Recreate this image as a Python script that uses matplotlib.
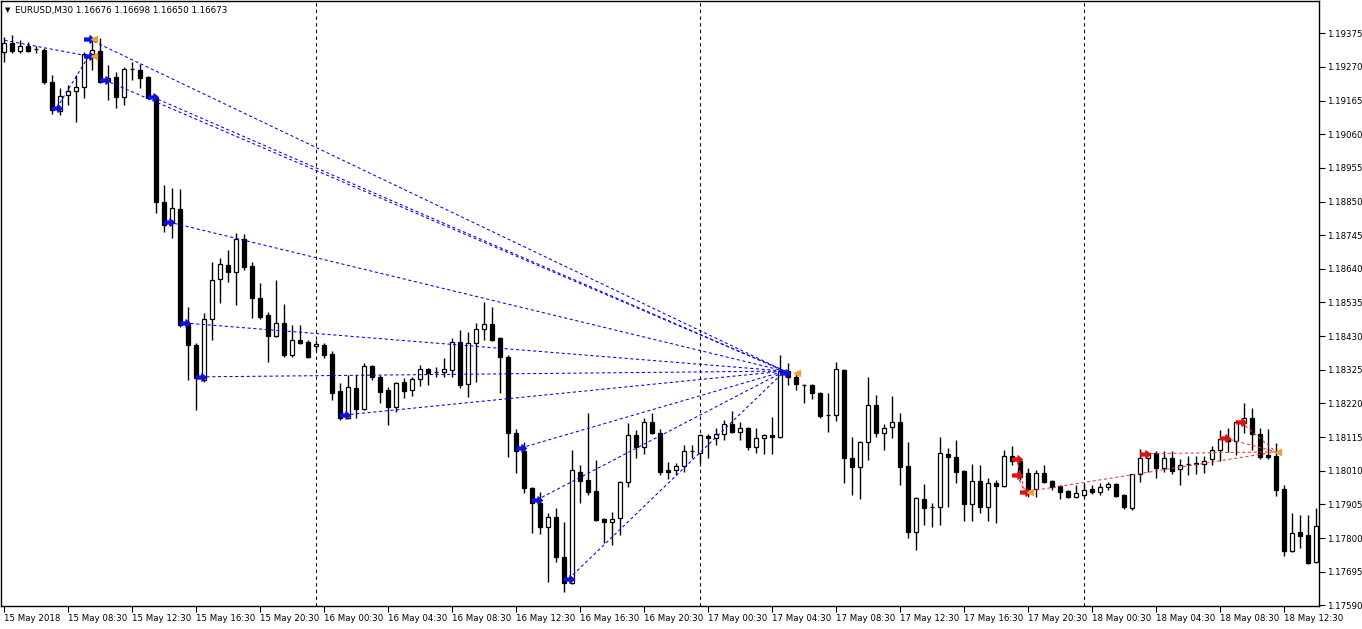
import matplotlib
matplotlib.use("Agg")
import matplotlib.pyplot as plt
from matplotlib.path import Path
import numpy as np

# ---------------- data (EURUSD M30, bar 0 = 15 May 04:30) ----------------
opens = [1.19317,1.19345,1.19320,1.19335,1.19326,1.19323,1.19223,1.19133,1.19183,1.19195,
         1.19208,1.19311,1.19320,1.19226,1.19239,1.19176,1.19264,1.19261,1.19239,1.19173,
         1.18849,1.18783,1.18827,1.18468,1.18403,1.18293,1.18484,1.18609,1.18652,1.18630,
         1.18733,1.18649,1.18549,1.18496,1.18431,1.18471,1.18371,1.18418,1.18412,1.18399,
         1.18403,1.18375,1.18259,1.18175,1.18268,1.18203,1.18337,1.18303,1.18262,1.18209,
         1.18287,1.18262,1.18297,1.18328,1.18318,1.18318,1.18325,1.18412,1.18281,1.18409,
         1.18453,1.18468,1.18424,1.18365,1.18128,1.18072,1.17956,1.17910,1.17835,1.17866,
         1.17741,1.17660,1.18006,1.17981,1.17947,1.17860,1.17850,1.17863,1.17975,1.18122,
         1.18084,1.18162,1.18128,1.18013,1.18013,1.18025,1.18072,1.18066,1.18119,1.18112,
         1.18125,1.18156,1.18131,1.18144,1.18084,1.18112,1.18122,1.18116,1.18321,1.18303,
         1.18278,1.18278,1.18253,1.18184,1.18184,1.18325,1.18050,1.18022,1.18100,1.18215,
         1.18128,1.18147,1.18162,1.18025,1.17819,1.17922,1.17897,1.17897,1.18063,1.18053,
         1.18009,1.17907,1.17978,1.17897,1.17972,1.17963,1.18056,1.18041,1.18003,1.17953,
         1.18003,1.17978,1.17963,1.17947,1.17928,1.17935,1.17953,1.17944,1.17960,1.17969,
         1.17935,1.17894,1.18000,1.18050,1.18066,1.18019,1.18050,1.18016,1.18031,1.18031,
         1.18031,1.18047,1.18075,1.18109,1.18103,1.18159,1.18175,1.18125,1.18059,1.18056,
         1.17953,1.17760,1.17819,1.17810,1.17726]
highs = [1.19364,1.19370,1.19354,1.19348,1.19335,1.19329,1.19245,1.19204,1.19214,1.19245,
         1.19317,1.19360,1.19360,1.19276,1.19254,1.19270,1.19286,1.19279,1.19242,1.19183,
         1.18902,1.18892,1.18889,1.18521,1.18409,1.18502,1.18662,1.18674,1.18699,1.18752,
         1.18749,1.18662,1.18596,1.18506,1.18605,1.18531,1.18465,1.18465,1.18418,1.18418,
         1.18409,1.18384,1.18284,1.18309,1.18309,1.18346,1.18340,1.18309,1.18272,1.18287,
         1.18300,1.18303,1.18340,1.18331,1.18334,1.18362,1.18424,1.18449,1.18443,1.18471,
         1.18537,1.18521,1.18428,1.18371,1.18141,1.18100,1.17960,1.17944,1.17878,1.17894,
         1.17850,1.18075,1.18028,1.18190,1.18044,1.17863,1.17882,1.17978,1.18159,1.18137,
         1.18175,1.18190,1.18141,1.18038,1.18034,1.18091,1.18091,1.18125,1.18125,1.18144,
         1.18169,1.18197,1.18162,1.18147,1.18144,1.18125,1.18178,1.18371,1.18346,1.18318,
         1.18281,1.18281,1.18256,1.18253,1.18350,1.18328,1.18116,1.18103,1.18303,1.18247,
         1.18156,1.18243,1.18190,1.18100,1.17928,1.17969,1.17910,1.18116,1.18081,1.18106,
         1.18013,1.18031,1.18028,1.17988,1.17981,1.18075,1.18087,1.18050,1.18019,1.18012,
         1.18028,1.17981,1.17966,1.17950,1.17966,1.17972,1.17966,1.17972,1.17975,1.17972,
         1.17938,1.18000,1.18078,1.18069,1.18072,1.18072,1.18072,1.18047,1.18056,1.18056,
         1.18056,1.18087,1.18137,1.18144,1.18169,1.18222,1.18206,1.18144,1.18141,1.18097,
         1.17966,1.17878,1.17872,1.17872,1.17894]
lows = [1.19286,1.19314,1.19314,1.19317,1.19314,1.19217,1.19123,1.19120,1.19151,1.19098,
        1.19173,1.19261,1.19220,1.19167,1.19142,1.19151,1.19229,1.19204,1.19170,1.18814,
        1.18755,1.18736,1.18459,1.18293,1.18200,1.18287,1.18418,1.18534,1.18599,1.18527,
        1.18637,1.18487,1.18484,1.18350,1.18428,1.18365,1.18365,1.18406,1.18362,1.18387,
        1.18362,1.18231,1.18169,1.18172,1.18175,1.18200,1.18293,1.18222,1.18153,1.18194,
        1.18237,1.18243,1.18275,1.18278,1.18303,1.18303,1.18303,1.18268,1.18240,1.18287,
        1.18418,1.18415,1.18253,1.18053,1.18003,1.17941,1.17816,1.17813,1.17663,1.17726,
        1.17632,1.17657,1.17910,1.17935,1.17853,1.17785,1.17779,1.17810,1.17960,1.18050,
        1.18063,1.18125,1.17997,1.17985,1.17997,1.18006,1.18050,1.18034,1.18050,1.18091,
        1.18106,1.18128,1.18106,1.18075,1.18066,1.18063,1.18063,1.18112,1.18278,1.18262,
        1.18222,1.18234,1.18175,1.18131,1.18165,1.17972,1.17935,1.17922,1.18043,1.18116,
        1.18075,1.18112,1.17966,1.17800,1.17763,1.17841,1.17835,1.17841,1.17897,1.17972,
        1.17853,1.17853,1.17878,1.17853,1.17847,1.17960,1.18028,1.17981,1.17928,1.17928,
        1.17972,1.17950,1.17922,1.17925,1.17925,1.17928,1.17938,1.17935,1.17950,1.17928,
        1.17891,1.17888,1.17975,1.18006,1.17988,1.18006,1.18000,1.17966,1.17997,1.18000,
        1.18003,1.18028,1.18041,1.18069,1.18059,1.18128,1.18075,1.18047,1.18047,1.17931,
        1.17744,1.17757,1.17769,1.17719,1.17722]
closes = [1.19345,1.19320,1.19335,1.19320,1.19326,1.19223,1.19136,1.19179,1.19195,1.19208,
          1.19311,1.19323,1.19223,1.19236,1.19176,1.19264,1.19264,1.19236,1.19173,1.18849,
          1.18777,1.18830,1.18465,1.18403,1.18300,1.18484,1.18605,1.18655,1.18630,1.18733,
          1.18646,1.18549,1.18490,1.18431,1.18471,1.18371,1.18418,1.18409,1.18365,1.18406,
          1.18371,1.18253,1.18175,1.18272,1.18203,1.18337,1.18303,1.18256,1.18209,1.18284,
          1.18259,1.18297,1.18328,1.18315,1.18318,1.18328,1.18412,1.18278,1.18409,1.18453,
          1.18468,1.18418,1.18365,1.18128,1.18072,1.17956,1.17910,1.17835,1.17866,1.17741,
          1.17660,1.18013,1.17978,1.17944,1.17857,1.17850,1.17860,1.17975,1.18122,1.18084,
          1.18162,1.18128,1.18006,1.18006,1.18025,1.18072,1.18072,1.18122,1.18112,1.18125,
          1.18156,1.18131,1.18144,1.18084,1.18112,1.18122,1.18116,1.18321,1.18303,1.18281,
          1.18278,1.18253,1.18181,1.18184,1.18328,1.18050,1.18022,1.18100,1.18215,1.18128,
          1.18144,1.18162,1.18022,1.17819,1.17925,1.17894,1.17897,1.18066,1.18053,1.18006,
          1.17907,1.17978,1.17897,1.17972,1.17963,1.18056,1.18041,1.17991,1.17953,1.18003,
          1.17975,1.17960,1.17944,1.17928,1.17941,1.17950,1.17944,1.17960,1.17969,1.17931,
          1.17897,1.18000,1.18050,1.18066,1.18019,1.18050,1.18009,1.18028,1.18031,1.18034,
          1.18041,1.18075,1.18109,1.18103,1.18162,1.18175,1.18125,1.18053,1.18053,1.17950,
          1.17760,1.17816,1.17807,1.17722,1.17838]

xtick_bars = [0, 8, 16, 24, 32, 40, 48, 56, 64, 72, 80, 88, 96, 104, 112, 120, 128, 136, 144, 152, 160]
xtick_labels = ["15 May 2018", "15 May 08:30", "15 May 12:30", "15 May 16:30", "15 May 20:30",
                "16 May 00:30", "16 May 04:30", "16 May 08:30", "16 May 12:30", "16 May 16:30",
                "16 May 20:30", "17 May 00:30", "17 May 04:30", "17 May 08:30", "17 May 12:30",
                "17 May 16:30", "17 May 20:30", "18 May 00:30", "18 May 04:30", "18 May 08:30",
                "18 May 12:30"]
day_separator_bars = [39, 87, 135]
ytick_values = [1.17590, 1.17695, 1.17800, 1.17905, 1.18010, 1.18115, 1.18220, 1.18325,
                1.18430, 1.18535, 1.18640, 1.18745, 1.18850, 1.18955, 1.19060, 1.19165,
                1.19270, 1.19375]
title_text = "EURUSD,M30 1.16676 1.16698 1.16650 1.16673"

# blue signals: bar index, price ; all converge to one target
blue_sig_bars = [11, 13, 19, 21, 23, 25, 43, 65, 67, 71]
blue_sig_prices = [1.19357, 1.19229, 1.19176, 1.18786, 1.18471, 1.18303, 1.18184, 1.18081, 1.17919, 1.17673]
blue_target_bar = 97.6
blue_target_price = 1.18321
blue_extra_arrows_bars = [7, 11, 98]
blue_extra_arrows_prices = [1.19142, 1.19304, 1.18315]
blue_lead_bars = [-0.4, 7]          # short lines ending at bar 11 lower arrow
blue_lead_prices = [1.19357, 1.19142]
blue_lead_end_bar = 11
blue_lead_end_price = 1.19304
orange_bars = [11.3, 11.3, 99.1]
orange_prices = [1.19357, 1.19304, 1.18315]

# red signals
red_first_bars = [127, 127]
red_first_prices = [1.18047, 1.17997]
red_mid_bar = 128
red_mid_price = 1.17944
red_sig_bars = [143, 153, 155]
red_sig_prices = [1.18063, 1.18112, 1.18162]
red_target_bar = 159
red_target_price = 1.18069

# ---------------- figure ----------------
W, H = 1362, 629
fig = plt.figure(figsize=(W / 100, H / 100), dpi=100)
fig.patch.set_facecolor("white")
ax_left, ax_right, ax_top, ax_bot = 1, 1319, 1, 606
ax = fig.add_axes([ax_left / W, 1 - ax_bot / H, (ax_right - ax_left) / W, (ax_bot - ax_top) / H])
ax.set_facecolor("white")

n = len(opens)
x = np.arange(n)
o = np.array(opens); h = np.array(highs); l = np.array(lows); c = np.array(closes)

# candles
ax.vlines(x, l, h, color="black", lw=1.0, zorder=3)
up = c >= o
bottoms = np.minimum(o, c)
heights = np.abs(c - o)
ax.bar(x[up], heights[up], bottom=bottoms[up], width=0.62, facecolor="white",
       edgecolor="black", linewidth=0.9, zorder=4)
ax.bar(x[~up], heights[~up], bottom=bottoms[~up], width=0.62, facecolor="black",
       edgecolor="black", linewidth=0.9, zorder=4)

# day separators
for b in day_separator_bars:
    ax.axvline(b, color="black", lw=0.8, linestyle=(0, (3, 3)), zorder=1)

# arrow marker
arrow = Path([(-1, -0.3), (0.1, -0.3), (0.1, -0.75), (1, 0), (0.1, 0.75), (0.1, 0.3), (-1, 0.3), (-1, -0.3)],
             [Path.MOVETO] + [Path.LINETO] * 6 + [Path.CLOSEPOLY])
off = -0.4

blue = "#0000ee"
for b, p in zip(blue_sig_bars, blue_sig_prices):
    ax.plot([b + off, blue_target_bar], [p, blue_target_price], color=blue, lw=0.75,
            linestyle=(0, (3, 2.5)), zorder=5)
for b, p in zip(blue_lead_bars, blue_lead_prices):
    ax.plot([b + off, blue_lead_end_bar + off], [p, blue_lead_end_price], color=blue, lw=0.75,
            linestyle=(0, (3, 2.5)), zorder=5)
ax.plot([blue_target_bar, 98 + off], [blue_target_price, blue_extra_arrows_prices[-1]], color=blue, lw=0.75,
        linestyle=(0, (3, 2.5)), zorder=5)

ax.plot(np.array(blue_sig_bars) + off, blue_sig_prices, linestyle="none", marker=arrow,
        markersize=7, color="#1010dd", zorder=6)
ax.plot(np.array(blue_extra_arrows_bars) + off, blue_extra_arrows_prices, linestyle="none", marker=arrow,
        markersize=7, color="#1010dd", zorder=6)
ax.plot(orange_bars, orange_prices, linestyle="none", marker="<", markersize=4,
        color="#f0a030", zorder=6)

red = "#e8383a"
for b, p in zip(red_first_bars, red_first_prices):
    ax.plot([b + off, red_mid_bar + off], [p, red_mid_price], color=red, lw=0.75,
            linestyle=(0, (3, 2.5)), zorder=5)
for b, p in zip([red_mid_bar] + red_sig_bars, [red_mid_price] + red_sig_prices):
    ax.plot([b + off, red_target_bar], [p, red_target_price], color=red, lw=0.75,
            linestyle=(0, (3, 2.5)), zorder=5)
ax.plot(np.array(red_first_bars + [red_mid_bar] + red_sig_bars) + off,
        red_first_prices + [red_mid_price] + red_sig_prices, linestyle="none", marker=arrow,
        markersize=7, color="#dd1111", zorder=6)
ax.plot([red_mid_bar + 0.2, red_target_bar + 0.3], [red_mid_price, red_target_price], linestyle="none",
        marker="<", markersize=4, color="#f0a030", zorder=6)

# axes limits
ax.set_xlim(-0.375, 164.375)
ax.set_ylim(1.175879, 1.194758)

# y ticks on right
ax.yaxis.tick_right()
ax.set_yticks(ytick_values)
ax.set_yticklabels([f"{v:.5f}" for v in ytick_values])
ax.tick_params(axis="y", direction="out", length=4, width=0.8, pad=2, labelsize=6.2, colors="black")

# x ticks
ax.set_xticks(xtick_bars)
ax.set_xticklabels(xtick_labels)
ax.tick_params(axis="x", direction="out", length=4, width=0.8, pad=2, labelsize=6.2, colors="black")
for lab in ax.get_xticklabels():
    lab.set_horizontalalignment("left")

for s in ax.spines.values():
    s.set_color("black")
    s.set_linewidth(1.0)

fig.text(5 / W, 1 - 10 / H, "\u25BC", fontsize=5, va="center", ha="left")
fig.text(15 / W, 1 - 10 / H, title_text, fontsize=6.3, va="center", ha="left")

fig.savefig("out.png", dpi=100, facecolor="white")
